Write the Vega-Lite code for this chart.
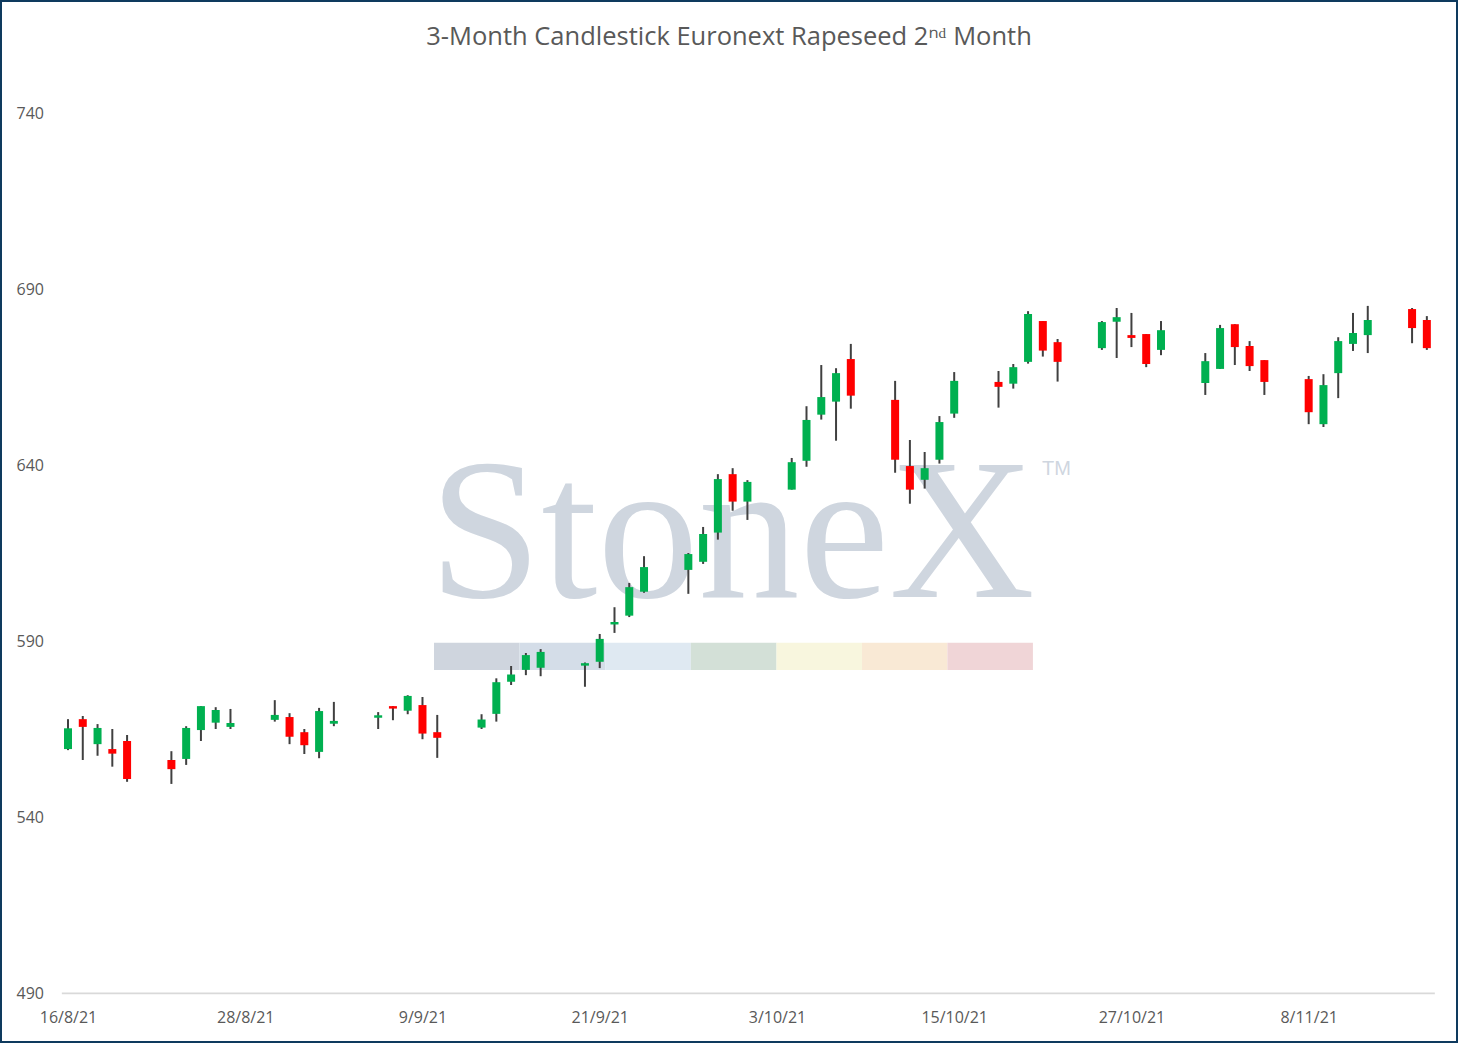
{
  "$schema": "https://vega.github.io/schema/vega-lite/v6.json",
  "width": 1458,
  "height": 1043,
  "autosize": {"type": "none"},
  "padding": 0,
  "background": "#ffffff",
  "title": {
    "text": "3-Month Candlestick Euronext Rapeseed 2ⁿᵈ Month",
    "anchor": "middle",
    "frame": "group",
    "orient": "top",
    "baseline": "alphabetic",
    "offset": -70,
    "font": "Open Sans",
    "fontSize": 25.5,
    "fontWeight": "normal",
    "color": "#595959"
  },
  "datasets": {
    "candles": [
      {"d": "2021-08-16T00:00", "o": 559.4, "h": 567.9, "l": 559.1, "c": 565.3},
      {"d": "2021-08-17T00:00", "o": 567.9, "h": 568.8, "l": 556.3, "c": 565.7},
      {"d": "2021-08-18T00:00", "o": 560.8, "h": 566.5, "l": 557.5, "c": 565.4},
      {"d": "2021-08-19T00:00", "o": 559.4, "h": 565.1, "l": 554.4, "c": 558.1},
      {"d": "2021-08-20T00:00", "o": 561.7, "h": 563.4, "l": 550.1, "c": 550.9},
      {"d": "2021-08-23T00:00", "o": 556.3, "h": 558.8, "l": 549.5, "c": 553.7},
      {"d": "2021-08-24T00:00", "o": 556.6, "h": 565.9, "l": 554.9, "c": 565.4},
      {"d": "2021-08-25T00:00", "o": 564.8, "h": 571.6, "l": 561.7, "c": 571.6},
      {"d": "2021-08-26T00:00", "o": 566.9, "h": 571.3, "l": 565.1, "c": 570.5},
      {"d": "2021-08-27T00:00", "o": 565.7, "h": 570.8, "l": 565.1, "c": 566.8},
      {"d": "2021-08-30T00:00", "o": 567.7, "h": 573.3, "l": 567.2, "c": 569.1},
      {"d": "2021-08-31T00:00", "o": 568.5, "h": 569.6, "l": 560.8, "c": 562.9},
      {"d": "2021-09-01T00:00", "o": 564.2, "h": 565.1, "l": 558.0, "c": 560.5},
      {"d": "2021-09-02T00:00", "o": 558.6, "h": 571.1, "l": 556.8, "c": 570.2},
      {"d": "2021-09-03T00:00", "o": 566.6, "h": 572.8, "l": 565.9, "c": 567.4},
      {"d": "2021-09-06T00:00", "o": 568.3, "h": 569.9, "l": 565.1, "c": 569.0},
      {"d": "2021-09-07T00:00", "o": 571.6, "h": 571.6, "l": 567.6, "c": 570.9},
      {"d": "2021-09-08T00:00", "o": 570.3, "h": 574.7, "l": 569.3, "c": 574.5},
      {"d": "2021-09-09T00:00", "o": 571.9, "h": 574.2, "l": 562.2, "c": 563.8},
      {"d": "2021-09-10T00:00", "o": 564.2, "h": 569.1, "l": 556.9, "c": 562.6},
      {"d": "2021-09-13T00:00", "o": 565.5, "h": 569.3, "l": 565.1, "c": 567.8},
      {"d": "2021-09-14T00:00", "o": 569.4, "h": 579.5, "l": 567.2, "c": 578.4},
      {"d": "2021-09-15T00:00", "o": 578.5, "h": 583.0, "l": 577.6, "c": 580.6},
      {"d": "2021-09-16T00:00", "o": 581.9, "h": 586.7, "l": 580.4, "c": 586.1},
      {"d": "2021-09-17T00:00", "o": 582.5, "h": 587.8, "l": 580.1, "c": 587.0},
      {"d": "2021-09-20T00:00", "o": 583.1, "h": 584.0, "l": 577.1, "c": 583.8},
      {"d": "2021-09-21T00:00", "o": 584.2, "h": 592.1, "l": 582.4, "c": 590.7},
      {"d": "2021-09-22T00:00", "o": 594.8, "h": 599.7, "l": 592.4, "c": 595.5},
      {"d": "2021-09-23T00:00", "o": 597.3, "h": 606.6, "l": 596.9, "c": 605.4},
      {"d": "2021-09-24T00:00", "o": 604.1, "h": 614.2, "l": 603.8, "c": 611.1},
      {"d": "2021-09-27T00:00", "o": 610.3, "h": 615.1, "l": 603.5, "c": 614.8},
      {"d": "2021-09-28T00:00", "o": 612.6, "h": 622.5, "l": 612.0, "c": 620.5},
      {"d": "2021-09-29T00:00", "o": 620.9, "h": 637.5, "l": 618.9, "c": 636.1},
      {"d": "2021-09-30T00:00", "o": 637.5, "h": 639.2, "l": 627.1, "c": 629.7},
      {"d": "2021-10-01T00:00", "o": 629.7, "h": 635.8, "l": 624.5, "c": 635.3},
      {"d": "2021-10-04T00:00", "o": 633.1, "h": 642.1, "l": 633.1, "c": 640.9},
      {"d": "2021-10-05T00:00", "o": 641.3, "h": 656.8, "l": 639.6, "c": 652.9},
      {"d": "2021-10-06T00:00", "o": 654.4, "h": 668.5, "l": 653.0, "c": 659.4},
      {"d": "2021-10-07T00:00", "o": 658.1, "h": 667.6, "l": 647.0, "c": 666.2},
      {"d": "2021-10-08T00:00", "o": 670.2, "h": 674.5, "l": 656.1, "c": 659.8},
      {"d": "2021-10-11T00:00", "o": 658.6, "h": 664.0, "l": 637.9, "c": 641.6},
      {"d": "2021-10-12T00:00", "o": 639.8, "h": 647.2, "l": 629.1, "c": 633.1},
      {"d": "2021-10-13T00:00", "o": 635.9, "h": 643.8, "l": 633.4, "c": 639.2},
      {"d": "2021-10-14T00:00", "o": 641.6, "h": 654.0, "l": 640.5, "c": 652.3},
      {"d": "2021-10-15T00:00", "o": 654.7, "h": 666.5, "l": 653.5, "c": 664.0},
      {"d": "2021-10-18T00:00", "o": 663.7, "h": 666.8, "l": 656.4, "c": 662.3},
      {"d": "2021-10-19T00:00", "o": 663.2, "h": 668.8, "l": 661.8, "c": 667.9},
      {"d": "2021-10-20T00:00", "o": 669.4, "h": 683.8, "l": 668.9, "c": 683.0},
      {"d": "2021-10-21T00:00", "o": 681.0, "h": 681.0, "l": 670.9, "c": 672.6},
      {"d": "2021-10-22T00:00", "o": 675.0, "h": 675.9, "l": 663.8, "c": 669.4},
      {"d": "2021-10-25T00:00", "o": 673.3, "h": 681.0, "l": 672.8, "c": 680.7},
      {"d": "2021-10-26T00:00", "o": 680.8, "h": 684.7, "l": 670.5, "c": 682.1},
      {"d": "2021-10-27T00:00", "o": 677.0, "h": 683.3, "l": 673.6, "c": 676.2},
      {"d": "2021-10-28T00:00", "o": 677.3, "h": 677.3, "l": 667.9, "c": 668.8},
      {"d": "2021-10-29T00:00", "o": 672.8, "h": 681.0, "l": 671.3, "c": 678.4},
      {"d": "2021-11-01T00:00", "o": 663.4, "h": 671.9, "l": 660.0, "c": 669.6},
      {"d": "2021-11-02T00:00", "o": 667.4, "h": 679.9, "l": 667.4, "c": 679.0},
      {"d": "2021-11-03T00:00", "o": 680.1, "h": 680.1, "l": 668.5, "c": 673.6},
      {"d": "2021-11-04T00:00", "o": 673.9, "h": 675.3, "l": 666.8, "c": 668.2},
      {"d": "2021-11-05T00:00", "o": 669.9, "h": 669.9, "l": 660.0, "c": 663.7},
      {"d": "2021-11-08T00:00", "o": 664.5, "h": 665.4, "l": 651.7, "c": 655.1},
      {"d": "2021-11-09T00:00", "o": 651.7, "h": 665.9, "l": 650.9, "c": 662.8},
      {"d": "2021-11-10T00:00", "o": 666.2, "h": 676.4, "l": 659.1, "c": 675.3},
      {"d": "2021-11-11T00:00", "o": 674.5, "h": 683.3, "l": 672.5, "c": 677.6},
      {"d": "2021-11-12T00:00", "o": 677.0, "h": 685.3, "l": 671.9, "c": 681.3},
      {"d": "2021-11-15T00:00", "o": 684.4, "h": 684.7, "l": 674.7, "c": 679.0},
      {"d": "2021-11-16T00:00", "o": 681.3, "h": 682.4, "l": 672.8, "c": 673.3}
    ],
    "bands": [
      {"seg": "1", "start": "2021-09-09T18:43", "end": "2021-09-15T13:41"},
      {"seg": "2", "start": "2021-09-15T13:41", "end": "2021-09-21T08:53"},
      {"seg": "3", "start": "2021-09-21T08:53", "end": "2021-09-27T04:05"},
      {"seg": "4", "start": "2021-09-27T04:05", "end": "2021-10-02T23:17"},
      {"seg": "5", "start": "2021-10-02T23:17", "end": "2021-10-08T18:14"},
      {"seg": "6", "start": "2021-10-08T18:14", "end": "2021-10-14T12:58"},
      {"seg": "7", "start": "2021-10-14T12:58", "end": "2021-10-20T07:55"}
    ],
    "one": [{}]
  },
  "layer": [
    {
      "data": {"name": "bands"},
      "mark": {"type": "rect"},
      "encoding": {
        "x": {
          "field": "start",
          "type": "temporal",
          "scale": {
            "domain": [
              {"year": 2021, "month": 8, "date": 11, "hours": 9, "minutes": 30},
              {"year": 2021, "month": 11, "date": 18, "hours": 2, "minutes": 38}
            ],
            "padding": 0
          },
          "axis": {
            "orient": "bottom",
            "offset": -34,
            "title": null,
            "domain": false,
            "ticks": false,
            "tickSize": 0,
            "grid": false,
            "labelPadding": 0,
            "labelFlush": false,
            "labelOverlap": false,
            "labelBound": false,
            "format": "%-d/%-m/%y",
            "values": [
              {"year": 2021, "month": 8, "date": 16},
              {"year": 2021, "month": 8, "date": 28},
              {"year": 2021, "month": 9, "date": 9},
              {"year": 2021, "month": 9, "date": 21},
              {"year": 2021, "month": 10, "date": 3},
              {"year": 2021, "month": 10, "date": 15},
              {"year": 2021, "month": 10, "date": 27},
              {"year": 2021, "month": 11, "date": 8}
            ]
          }
        },
        "x2": {"field": "end"},
        "y": {
          "datum": 589.6,
          "type": "quantitative",
          "scale": {"domain": [475.9, 772.2], "nice": false, "zero": false, "padding": 0},
          "axis": {
            "orient": "left",
            "offset": -16,
            "title": null,
            "domain": false,
            "ticks": false,
            "tickSize": 0,
            "grid": false,
            "labelPadding": 0,
            "labelAlign": "left",
            "labelBaseline": "middle",
            "labelFlush": false,
            "labelOverlap": false,
            "values": [490, 540, 590, 640, 690, 740]
          }
        },
        "y2": {"datum": 581.85},
        "color": {
          "field": "seg",
          "type": "nominal",
          "legend": null,
          "scale": {
            "domain": ["1", "2", "3", "4", "5", "6", "7"],
            "range": ["#cfd5de", "#d4dde8", "#dfe9f2", "#d3e0d7", "#f8f6de", "#f9e9d5", "#f0d5d7"]
          }
        }
      }
    },
    {
      "data": {"name": "one"},
      "mark": {
        "type": "text",
        "text": "StoneX",
        "font": "Liberation Serif",
        "fontSize": 202,
        "align": "center",
        "baseline": "alphabetic",
        "color": "#cfd6df"
      },
      "encoding": {
        "x": {"datum": {"year": 2021, "month": 9, "date": 29, "hours": 22, "minutes": 48}, "type": "temporal"},
        "y": {"datum": 602.6, "type": "quantitative"}
      }
    },
    {
      "data": {"name": "one"},
      "mark": {
        "type": "text",
        "text": "TM",
        "font": "Liberation Sans",
        "fontSize": 20,
        "align": "center",
        "baseline": "alphabetic",
        "color": "#cfd6df"
      },
      "encoding": {
        "x": {"datum": {"year": 2021, "month": 10, "date": 21, "hours": 22, "minutes": 0}, "type": "temporal"},
        "y": {"datum": 637.2, "type": "quantitative"}
      }
    },
    {
      "data": {"name": "one"},
      "mark": {"type": "rule", "color": "#d9d9d9", "strokeWidth": 1.6},
      "encoding": {
        "x": {"datum": {"year": 2021, "month": 8, "date": 15, "hours": 14, "minutes": 0}, "type": "temporal"},
        "x2": {"datum": {"year": 2021, "month": 11, "date": 16, "hours": 13, "minutes": 0}},
        "y": {"datum": 490, "type": "quantitative"}
      }
    },
    {
      "data": {"name": "candles"},
      "mark": {"type": "rule", "color": "#404040", "strokeWidth": 2},
      "encoding": {
        "x": {"field": "d", "type": "temporal"},
        "y": {"field": "l", "type": "quantitative"},
        "y2": {"field": "h"}
      }
    },
    {
      "data": {"name": "candles"},
      "mark": {"type": "bar", "size": 8},
      "encoding": {
        "x": {"field": "d", "type": "temporal"},
        "y": {"field": "o", "type": "quantitative"},
        "y2": {"field": "c"},
        "color": {
          "condition": {"test": "datum.c < datum.o", "value": "#ff0000"},
          "value": "#00b050"
        }
      }
    }
  ],
  "config": {
    "view": {"stroke": "#0e3a5e", "strokeWidth": 4},
    "axis": {
      "labelFont": "Open Sans",
      "labelFontSize": 16,
      "labelColor": "#595959"
    }
  }
}
